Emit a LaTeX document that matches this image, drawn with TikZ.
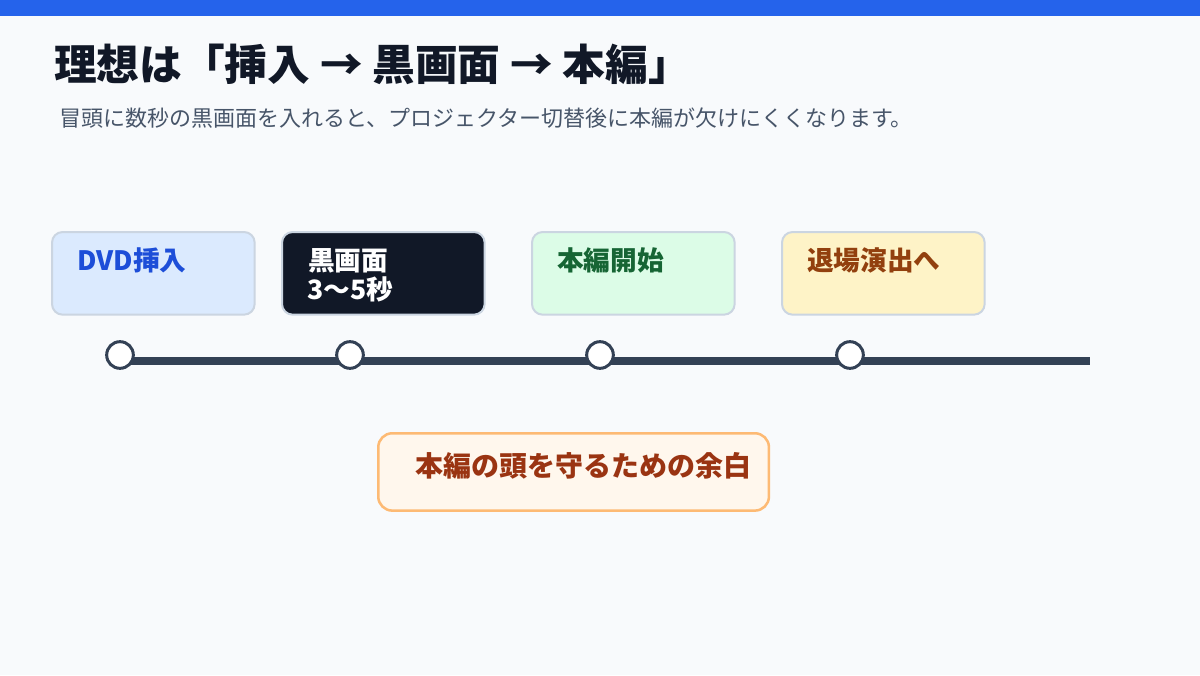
\documentclass[tikz,border=0pt]{standalone}
\usepackage{fontspec}
\setmainfont{Noto Sans CJK JP}
\usetikzlibrary{positioning}
\definecolor{pagebg}{HTML}{F8FAFC}
\definecolor{topbar}{HTML}{2563EB}
\definecolor{titlecol}{HTML}{111827}
\definecolor{subcol}{HTML}{475569}
\definecolor{cardline}{HTML}{CBD5E1}
\definecolor{axiscol}{HTML}{334155}
\definecolor{dvdfill}{HTML}{DBEAFE}
\definecolor{dvdtext}{HTML}{1D4ED8}
\definecolor{blackfill}{HTML}{111827}
\definecolor{mainfill}{HTML}{DCFCE7}
\definecolor{maintext}{HTML}{166534}
\definecolor{exitfill}{HTML}{FEF3C7}
\definecolor{exittext}{HTML}{92400E}
\definecolor{gapfill}{HTML}{FFF7ED}
\definecolor{gapline}{HTML}{FDBA74}
\definecolor{gaptext}{HTML}{9A3412}
\begin{document}
\begin{tikzpicture}[x=0.75pt,y=-0.75pt,
    card/.style={draw=cardline, line width=1.5pt, rounded corners=8pt, anchor=north west,
      minimum width=152pt, minimum height=62pt, inner sep=0pt},
    lbl/.style={anchor=base west, inner sep=0pt, font=\fontsize{20}{24}\selectfont\bfseries},
    dot/.style={circle, draw=axiscol, fill=white, line width=2.25pt, minimum size=20pt, inner sep=0pt}]
        \fill[pagebg] (0,0) rectangle (1200,675);
        \fill[topbar] (0,0) rectangle (1200,16);
        \node[anchor=base west, inner sep=0pt, text=titlecol, font=\fontsize{32}{38}\selectfont\bfseries] (title) at (54,80) {理想は「挿入 → 黒画面 → 本編」};
        \node[anchor=base west, inner sep=0pt, text=subcol, font=\fontsize{16.5}{20}\selectfont] (subtitle) at (59,126) {冒頭に数秒の黒画面を入れると、プロジェクター切替後に本編が欠けにくくなります。};

        \node[card, fill=dvdfill] (dvd) at (51,231) {};
        \node[card, fill=blackfill] (black) at (281,231) {};
        \node[card, fill=mainfill] (main) at (531,231) {};
        \node[card, fill=exitfill] (exit) at (781,231) {};
        \node[lbl, text=dvdtext] (dvdlbl) at (77,270) {DVD挿入};
        \node[lbl, text=white] (blacklbl) at (308,270) {黒画面};
        \node[lbl, text=white] (secslbl) at (307,299) {3〜5秒};
        \node[lbl, text=maintext] (mainlbl) at (557,270) {本編開始};
        \node[lbl, text=exittext] (exitlbl) at (807,270) {退場演出へ};

        \coordinate (tlstart) at (120,361);
        \coordinate (tlend) at (1090,361);
        \draw[axiscol, line width=6pt] (tlstart) -- (tlend);
        \foreach \x/\n in {120/dvd, 350/black, 600/main, 850/exit}
            \node[dot] (dot\n) at (\x,355) {};

        \node[draw=gapline, fill=gapfill, line width=1.9pt, rounded corners=10.5pt, anchor=north west,
          minimum width=293pt, minimum height=58pt] (gap) at (377,432) {};
        \node[lbl, text=gaptext, font=\fontsize{21}{25}\selectfont\bfseries] (gaplbl) at (415,476) {本編の頭を守るための余白};
\end{tikzpicture}
\end{document}
